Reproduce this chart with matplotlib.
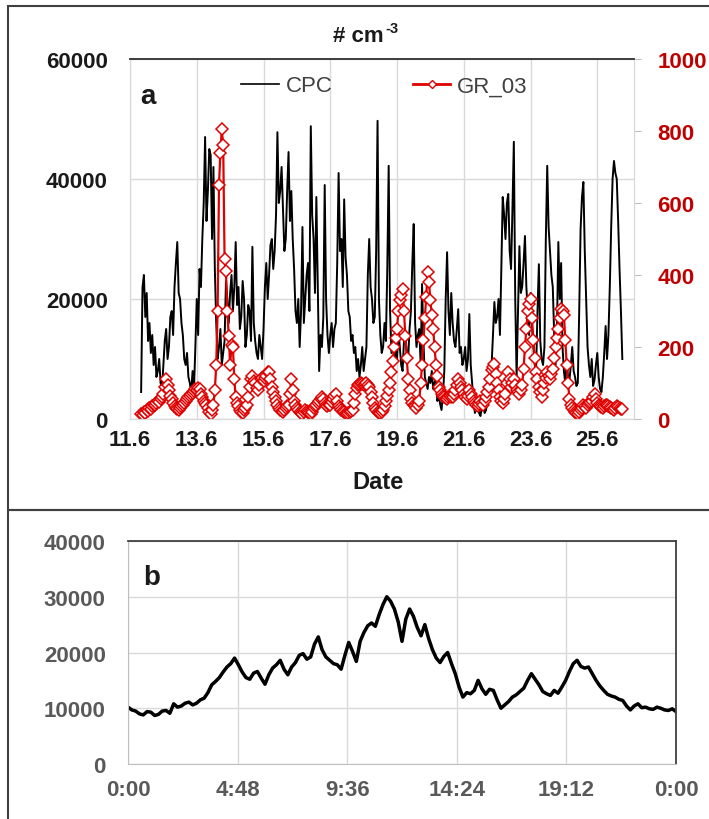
import numpy as np
import matplotlib
matplotlib.use("Agg")
import matplotlib.pyplot as plt
from matplotlib.patches import Rectangle
from matplotlib.lines import Line2D

plt.rcParams['font.family'] = ['Liberation Sans', 'DejaVu Sans']

# ---------------- data : panel a (hourly, starting 11 June 08:00) -------------
cpc_d11 = [4500, 22000, 24000, 17000, 21000, 13000, 16000, 11000, 14000, 9000, 12000, 7000,
           8000, 10000, 6000, 5000]
cpc_d12 = [9000, 13000, 15000, 10000, 12000, 17000, 18000, 14000, 22000, 26000, 29500, 21000,
           20000, 16000, 14000, 10000, 9000, 11000, 7000, 6000, 4500, 8000, 5000, 12000]
cpc_d13 = [20000, 14000, 25000, 22000, 30000, 36000, 47000, 33000, 38000, 45000, 44000, 30000,
           42000, 25000, 16000, 10000, 12000, 15000, 9000, 11000, 13000, 23000, 20000, 16000]
cpc_d14 = [21000, 24000, 18000, 22000, 29500, 19000, 22000, 15000, 17000, 23000, 20000, 12000,
           14000, 19000, 18000, 13000, 28700, 16000, 13000, 11000, 10000, 14000, 12000, 10000]
cpc_d15 = [15000, 22000, 26000, 20000, 24000, 29000, 30000, 25000, 28000, 34000, 47800, 36000,
           38000, 42000, 35000, 28000, 30000, 38000, 44500, 33000, 38000, 30000, 25000, 18000]
cpc_d16 = [16000, 20000, 12000, 18000, 32000, 16000, 20000, 24000, 26000, 18000, 48800, 34000,
           30000, 21000, 37000, 22000, 8000, 14000, 12000, 17000, 39000, 20000, 14000, 11000]
cpc_d17 = [14000, 16000, 12000, 15000, 16000, 26000, 41000, 28000, 30000, 22000, 36600, 27000,
           24000, 18000, 17000, 13000, 14000, 11000, 12000, 8000, 10000, 7000, 9000, 12000]
cpc_d18 = [8000, 10000, 12000, 24000, 30000, 22000, 20000, 16000, 17000, 28000, 49700, 20000,
           14000, 11000, 12000, 16000, 13000, 25000, 42200, 18000, 11000, 14000, 9000, 12000]
cpc_d19 = [10000, 15000, 12000, 9000, 8000, 13000, 14000, 11000, 10000, 15000, 18000, 26000,
           32500, 16000, 12000, 14000, 15000, 9000, 22500, 13000, 7000, 6000, 5000, 7000]
cpc_d20 = [6000, 8000, 5000, 6000, 7000, 3000, 4000, 2500, 1500, 4000, 8000, 20000,
           27800, 18000, 14000, 21000, 16000, 13000, 12000, 15000, 18300, 11000, 12000, 9000]
cpc_d21 = [10000, 12000, 8000, 10000, 17500, 9000, 6000, 3000, 1000, 2500, 2000, 1000,
           500, 2000, 2500, 1000, 1500, 3000, 4000, 6000, 9000, 14000, 19500, 16000]
cpc_d22 = [17000, 20000, 14000, 25000, 37000, 34000, 30000, 36000, 37500, 28000, 25000, 35000,
           46200, 20000, 7000, 18000, 28800, 21000, 22000, 26000, 30500, 22000, 18000, 14000]
cpc_d23 = [21000, 16000, 12000, 9000, 8000, 18000, 25800, 13000, 10000, 9000, 12000, 30000,
           42200, 32000, 28000, 24000, 22000, 14000, 9000, 15000, 29500, 20000, 26000, 12000]
cpc_d24 = [8000, 6000, 9500, 7000, 6500, 9000, 12000, 8000, 7000, 5500, 6000, 18000,
           31700, 37000, 39500, 28000, 20000, 12000, 9000, 7000, 10000, 5500, 6500, 9000]
cpc_d25 = [11000, 7000, 5000, 4500, 7000, 11000, 15500, 10000, 14000, 22000, 32000, 40000,
           43000, 41000, 40000, 33000, 25000, 18000, 10000]

gr_d11 = [15, 12, 20, 18, 25, 22, 30, 28, 35, 38, 40, 45, 50, 48, 55, 60]
gr_d12 = [70, 90, 110, 95, 80, 65, 55, 45, 35, 30, 28, 25,
          30, 35, 40, 45, 50, 55, 60, 65, 70, 72, 78, 82]
gr_d13 = [80, 85, 83, 70, 60, 50, 45, 38, 30, 20, 14, 25,
          40, 80, 150, 300, 650, 740, 805, 760, 445, 410, 300, 230]
gr_d14 = [150, 205, 200, 110, 60, 45, 35, 25, 20, 18, 25, 30,
          40, 60, 90, 110, 120, 105, 100, 85, 80, 95, 110, 115]
gr_d15 = [105, 115, 120, 130, 130, 110, 90, 75, 60, 50, 40, 30,
          25, 22, 20, 25, 30, 35, 40, 70, 111, 80, 50, 40]
gr_d16 = [30, 25, 20, 18, 15, 20, 25, 22, 20, 18, 15, 20,
          30, 35, 40, 45, 50, 55, 60, 55, 45, 40, 35, 38]
gr_d17 = [40, 48, 55, 65, 70, 50, 35, 30, 25, 22, 20, 18,
          15, 18, 20, 22, 25, 45, 70, 85, 95, 98, 100, 97]
gr_d18 = [95, 98, 100, 95, 90, 75, 60, 45, 30, 25, 20, 18,
          18, 20, 25, 35, 50, 65, 80, 100, 130, 160, 200, 225]
gr_d19 = [250, 300, 330, 345, 361, 300, 230, 170, 110, 80, 55, 45,
          40, 35, 30, 40, 50, 100, 150, 220, 280, 340, 408, 380]
gr_d20 = [330, 290, 250, 200, 150, 120, 90, 80, 70, 65, 60, 58,
          55, 60, 65, 62, 60, 70, 80, 95, 110, 100, 90, 80]
gr_d21 = [70, 60, 55, 65, 80, 70, 60, 50, 45, 40, 35, 42,
          50, 45, 40, 50, 60, 75, 90, 110, 135, 145, 152, 125]
gr_d22 = [100, 80, 60, 50, 45, 55, 70, 100, 130, 110, 90, 100,
          110, 95, 80, 75, 70, 80, 95, 140, 200, 250, 300, 320]
gr_d23 = [333, 280, 220, 170, 130, 110, 90, 75, 60, 80, 100, 115,
          130, 120, 110, 125, 140, 170, 200, 225, 250, 280, 305, 300]
gr_d24 = [290, 220, 150, 100, 55, 40, 30, 25, 20, 18, 15, 20,
          25, 30, 40, 35, 30, 38, 45, 48, 50, 60, 70, 55]
gr_d25 = [45, 40, 35, 32, 30, 35, 40, 38, 35, 32, 30, 28, 25, 30, 35, 32, 30, 29, 28]

date_ticks = [11, 13, 15, 17, 19, 21, 23, 25]
date_labels = ['11.6', '13.6', '15.6', '17.6', '19.6', '21.6', '23.6', '25.6']
cpc_ticks = [0, 20000, 40000, 60000]
gr_ticks = [0, 200, 400, 600, 800, 1000]

# ---------------- data : panel b (diurnal, every 10 min, one row per hour) --------
diurnal = [10200, 9700, 9500, 9000, 8800, 9400,
           9300, 8700, 8900, 9500, 9600, 9100,
           10800, 10200, 10400, 10900, 11100, 10600,
           10900, 11500, 11800, 12800, 14200, 14800,
           15500, 16500, 17400, 18000, 19000, 17800,
           16500, 15500, 15200, 16300, 16600, 15400,
           14300, 16000, 17200, 17800, 18600, 17000,
           16000, 17400, 18200, 19500, 19800, 18800,
           19200, 21500, 22800, 20500, 19200, 18600,
           18000, 17800, 17000, 19500, 21800, 20200,
           18400, 22000, 23600, 24800, 25300, 24700,
           26800, 28600, 30000, 29200, 27800, 25500,
           22000, 26000, 27800, 26500, 24500, 23000,
           25000, 22500, 20500, 19000, 18200, 19300,
           20000, 18000, 16200, 13800, 12000, 12800,
           12600, 13200, 15000, 13500, 12500, 13400,
           13200, 11500, 10000, 10600, 11200, 12000,
           12400, 13000, 13600, 15000, 16200, 15200,
           14200, 13000, 12600, 12300, 13200, 12700,
           13800, 15000, 16600, 18000, 18600, 17500,
           17200, 17400, 16200, 15000, 14000, 13200,
           12500, 12200, 12000, 11600, 11400, 10400,
           9700, 10400, 10800, 10100, 10200, 9900,
           9800, 10200, 10000, 9700, 9600, 9900,
           9400]
hour_ticks = [0, 4.8, 9.6, 14.4, 19.2, 24]
hour_labels = ['0:00', '4:48', '9:36', '14:24', '19:12', '0:00']
b_ticks = [0, 10000, 20000, 30000, 40000]

cpc = np.array(cpc_d11 + cpc_d12 + cpc_d13 + cpc_d14 + cpc_d15 + cpc_d16 + cpc_d17 +
               cpc_d18 + cpc_d19 + cpc_d20 + cpc_d21 + cpc_d22 + cpc_d23 + cpc_d24 + cpc_d25)
gr = np.array(gr_d11 + gr_d12 + gr_d13 + gr_d14 + gr_d15 + gr_d16 + gr_d17 +
              gr_d18 + gr_d19 + gr_d20 + gr_d21 + gr_d22 + gr_d23 + gr_d24 + gr_d25)
t = 11 + 8 / 24 + np.arange(len(cpc)) / 24.0
hours = np.arange(len(diurnal)) / 6.0

# ---------------- figure ----------------
W, H = 709, 820
fig = plt.figure(figsize=(W / 100, H / 100), dpi=100)

def fx(px):
    return px / W

def fy(py):
    return 1 - py / H

RED = '#E00000'
RED_T = '#C00000'
GRID = '#D9D9D9'
DARK = '#404040'
GRAY_T = '#595959'

# panel boxes
fig.add_artist(Rectangle((fx(8), fy(511)), 1.0, (511 - 7) / H, transform=fig.transFigure,
                         fill=False, ec=DARK, lw=1.5, clip_on=False))
fig.add_artist(Rectangle((fx(8), fy(835)), 1.0, (835 - 511) / H, transform=fig.transFigure,
                         fill=False, ec=DARK, lw=1.5, clip_on=False))

# ---- panel a ----
axa = fig.add_axes([fx(130), fy(420), fx(634) - fx(130), fy(60) - fy(420)])
axa.plot(t, cpc, color='black', lw=1.4, label='CPC')
axa.set_xlim(11, 26.1)
axa.set_ylim(0, 60000)
axa.set_xticks(date_ticks)
axa.set_xticklabels(date_labels)
axa.set_yticks(cpc_ticks)
axa.set_yticklabels([str(v) for v in cpc_ticks])
axa.grid(True, color=GRID, lw=1)
axa.set_axisbelow(True)
axa.tick_params(axis='x', length=0, pad=7, labelsize=16, labelcolor='#1a1a1a')
axa.tick_params(axis='y', length=0, pad=16, labelsize=16, labelcolor='#1a1a1a')
for lab in axa.get_xticklabels() + axa.get_yticklabels():
    lab.set_fontweight('bold')
for s in ['left', 'bottom', 'right']:
    axa.spines[s].set_color(GRID)
axa.spines['top'].set_color(DARK)
axa.spines['top'].set_linewidth(1.3)

axr = axa.twinx()
axr.plot(t, gr, color=RED, lw=1.6, marker='D', ms=6, mfc='white', mec=RED, mew=1.1,
         label='GR_03')
axr.set_ylim(0, 1000)
axr.set_yticks(gr_ticks)
axr.set_yticklabels([str(v) for v in gr_ticks])
axr.tick_params(axis='y', length=5, color='#BFBFBF', pad=12, labelsize=16, labelcolor=RED_T)
for lab in axr.get_yticklabels():
    lab.set_fontweight('bold')
for s in ['left', 'bottom', 'right']:
    axr.spines[s].set_color(GRID)
axr.spines['top'].set_color(DARK)
axr.spines['top'].set_linewidth(1.3)

handles = [Line2D([], [], color='black', lw=1.2),
           Line2D([], [], color=RED, lw=2, marker='D', ms=4.5, mfc='white', mec=RED)]
leg = axr.legend(handles, ['CPC', 'GR_03'], loc='center', bbox_to_anchor=(0.505, 0.925),
                 ncol=2, frameon=False, fontsize=16, handlelength=1.7, columnspacing=3.6,
                 handletextpad=0.3)
for txt in leg.get_texts():
    txt.set_color(DARK)

fig.text(fx(384), fy(36), '# cm', ha='right', va='center', fontsize=16,
         fontweight='bold', color='#1a1a1a')
fig.text(fx(385), fy(29), '-3', ha='left', va='center', fontsize=10.5,
         fontweight='bold', color='#1a1a1a')
fig.text(fx(378), fy(483), 'Date', ha='center', va='center', fontsize=17,
         fontweight='bold', color='#1a1a1a')
fig.text(fx(148), fy(97), 'a', ha='center', va='center', fontsize=20,
         fontweight='bold', color='#1a1a1a')

# ---- panel b ----
axb = fig.add_axes([fx(128), fy(765), fx(676) - fx(128), fy(542) - fy(765)])
axb.plot(hours, diurnal, color='black', lw=2.5)
axb.set_xlim(0, 24)
axb.set_ylim(0, 40000)
axb.set_xticks(hour_ticks)
axb.set_xticklabels(hour_labels)
axb.set_yticks(b_ticks)
axb.set_yticklabels([str(v) for v in b_ticks])
axb.grid(True, color=GRID, lw=1)
axb.set_axisbelow(True)
axb.tick_params(axis='x', length=0, pad=11, labelsize=16, labelcolor=GRAY_T)
axb.tick_params(axis='y', length=0, pad=16, labelsize=16, labelcolor=GRAY_T)
for lab in axb.get_xticklabels() + axb.get_yticklabels():
    lab.set_fontweight('bold')
for s in ['left', 'bottom']:
    axb.spines[s].set_color('#BFBFBF')
for s in ['top', 'right']:
    axb.spines[s].set_color(DARK)
    axb.spines[s].set_linewidth(1.3)

fig.text(fx(152), fy(578), 'b', ha='center', va='center', fontsize=20,
         fontweight='bold', color='#1a1a1a')

fig.savefig('out.png', dpi=100)
